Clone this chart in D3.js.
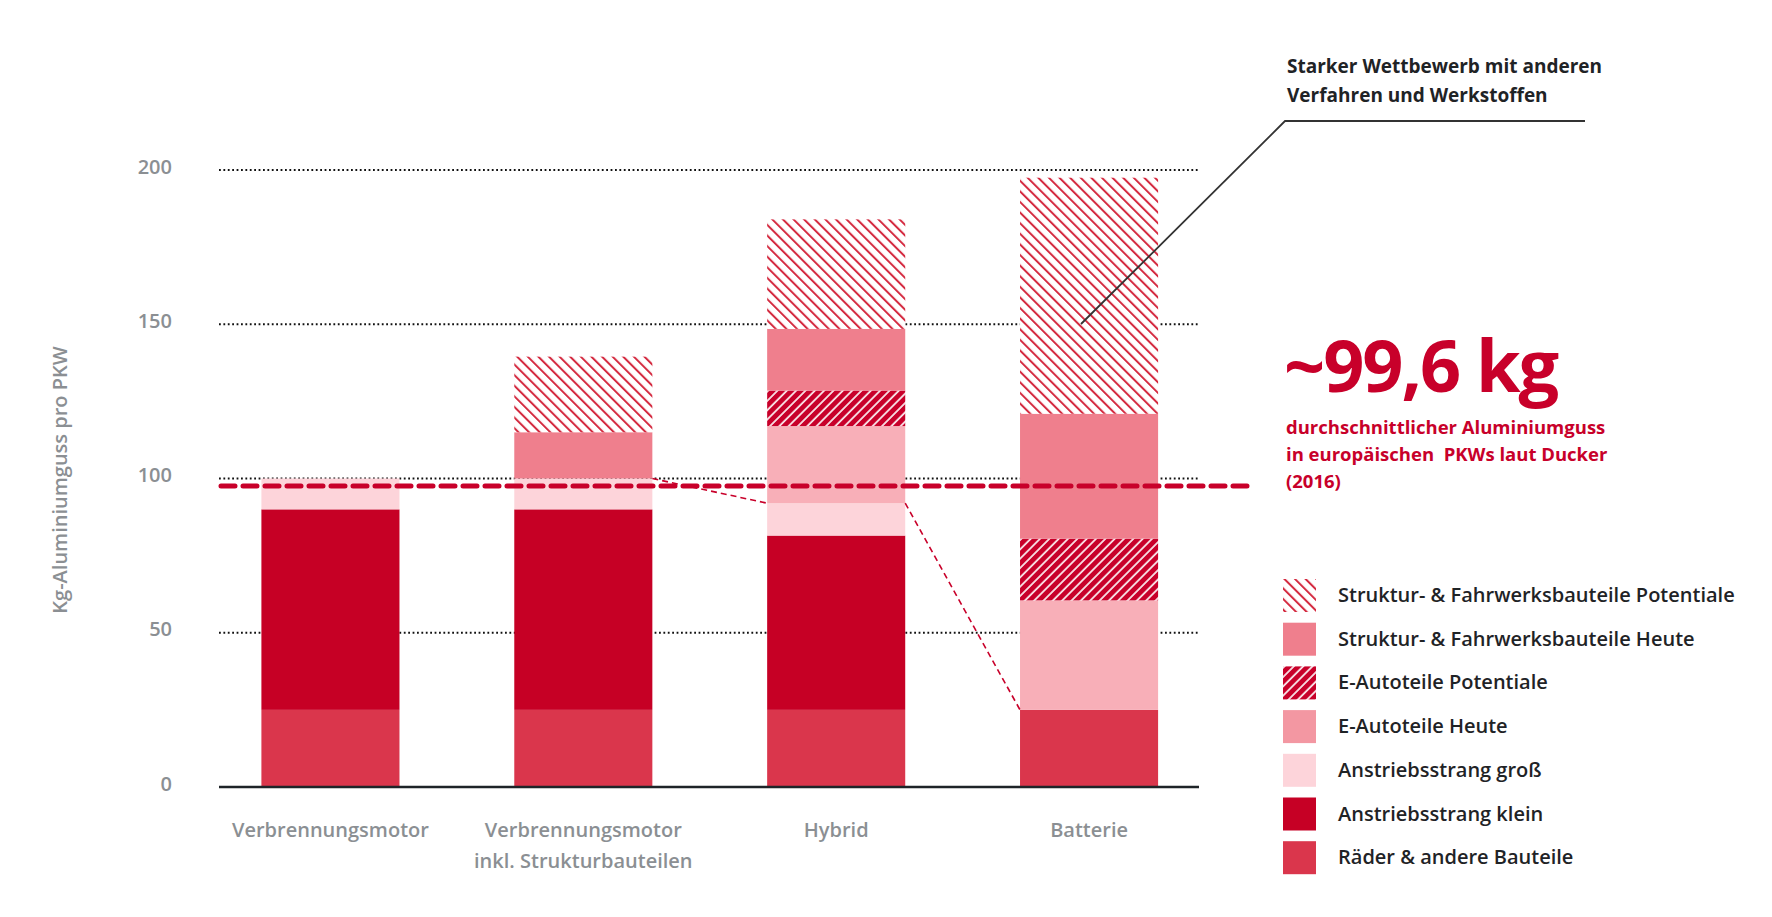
<!DOCTYPE html>
<html>
<head>
<meta charset="utf-8">
<script src="https://cdn.jsdelivr.net/npm/d3@7"></script>
<style>
  body { margin: 0; background: #fff; }
  text { font-family: "Open Sans", "Noto Sans", sans-serif; }
</style>
</head>
<body>
<div id="chart"></div>
<script>
// Data (kg per car)
var categories = ["Verbrennungsmotor", "Verbrennungsmotor\ninkl. Strukturbauteilen", "Hybrid", "Batterie"];
var raeder        = [25, 25, 25, 25];
var antriebKlein  = [65, 65, 56.5, 0];
var antriebGross  = [10, 10, 10.5, 0];
var eAutoHeute    = [0, 0, 25, 35.5];
var eAutoPot      = [0, 0, 11.5, 20];
var strukturHeute = [0, 15, 20, 40.5];
var strukturPot   = [0, 24.5, 35.5, 76.5];
var avgValue = 97.6;
var yTicks = [0, 50, 100, 150, 200];

var seriesNames = {
    raeder: "Räder & andere Bauteile",
    antriebKlein: "Anstriebsstrang klein",
    antriebGross: "Anstriebsstrang groß",
    eAutoHeute: "E-Autoteile Heute",
    eAutoPot: "E-Autoteile Potentiale",
    strukturHeute: "Struktur- & Fahrwerksbauteile Heute",
    strukturPot: "Struktur- & Fahrwerksbauteile Potentiale"
};
var keys = ["raeder", "antriebKlein", "antriebGross", "eAutoHeute", "eAutoPot", "strukturHeute", "strukturPot"];
var seriesData = {raeder: raeder, antriebKlein: antriebKlein, antriebGross: antriebGross,
    eAutoHeute: eAutoHeute, eAutoPot: eAutoPot, strukturHeute: strukturHeute, strukturPot: strukturPot};

var fills = {
    raeder: "#da364c",
    antriebKlein: "#c60025",
    antriebGross: "#fdd4da",
    eAutoHeute: "#f8afb8",
    eAutoPot: "url(#hatchDark)",
    strukturHeute: "#ef7f8d",
    strukturPot: "url(#hatchLight)"
};
var legendFills = Object.assign({}, fills, {eAutoHeute: "#f397a2"});

var svgWidth = 1772;
var svgHeight = 917;

var svg = d3.select("#chart")
    .append("svg")
    .attr("width", svgWidth)
    .attr("height", svgHeight);

// Hatch patterns
var defs = svg.append("defs");

var light = defs.append("pattern")
    .attr("id", "hatchLight")
    .attr("patternUnits", "userSpaceOnUse")
    .attr("width", 7.5)
    .attr("height", 7.5)
    .attr("patternTransform", "rotate(-45)");
light.append("rect").attr("width", 7.5).attr("height", 7.5).attr("fill", "#fff");
light.append("line")
    .attr("x1", 1).attr("y1", 0).attr("x2", 1).attr("y2", 7.5)
    .attr("stroke", "#d42a40").attr("stroke-width", 2);

var dark = defs.append("pattern")
    .attr("id", "hatchDark")
    .attr("patternUnits", "userSpaceOnUse")
    .attr("width", 6.6)
    .attr("height", 6.6)
    .attr("patternTransform", "rotate(45)");
dark.append("rect").attr("width", 6.6).attr("height", 6.6).attr("fill", "#c8002a");
dark.append("line")
    .attr("x1", 1).attr("y1", 0).attr("x2", 1).attr("y2", 6.6)
    .attr("stroke", "#fff").attr("stroke-width", 1.6);

// Scales
var yScale = d3.scaleLinear()
    .domain([0, 200])
    .range([787, 170]);

var xScale = d3.scaleBand()
    .domain(categories)
    .range([204, 1215.5])
    .paddingInner(0.454)
    .paddingOuter(0.227);

var gridLeft = 219, gridRight = 1199;

// Dotted gridlines
svg.append("g")
    .selectAll("line")
    .data(yTicks.filter(d => d > 0))
    .enter()
    .append("line")
    .attr("x1", gridLeft)
    .attr("x2", gridRight)
    .attr("y1", d => yScale(d))
    .attr("y2", d => yScale(d))
    .attr("stroke", "#111")
    .attr("stroke-width", 2)
    .attr("stroke-dasharray", "1.8,2.6");

// Y axis labels
var yAxis = svg.append("g")
    .attr("transform", "translate(172,0)")
    .call(d3.axisLeft(yScale).tickValues(yTicks).tickSize(0).tickPadding(0));
yAxis.select(".domain").remove();
yAxis.selectAll("text")
    .attr("dy", "3px")
    .attr("fill", "#8b8f93")
    .attr("font-size", "20px")
    .attr("font-weight", 600)
    .style("font-family", "'Open Sans', sans-serif");

// Stacked bars
var table = categories.map(function(c, i) {
    var row = {category: c};
    keys.forEach(k => row[k] = seriesData[k][i]);
    return row;
});
var stacked = d3.stack().keys(keys)(table);

svg.append("g")
    .selectAll("g")
    .data(stacked)
    .enter()
    .append("g")
    .attr("fill", d => fills[d.key])
    .selectAll("rect")
    .data(d => d)
    .enter()
    .append("rect")
    .filter(d => d[1] - d[0] > 0)
    .attr("x", d => xScale(d.data.category))
    .attr("width", xScale.bandwidth())
    .attr("y", d => yScale(d[1]))
    .attr("height", d => yScale(d[0]) - yScale(d[1]));

// Baseline
svg.append("line")
    .attr("x1", gridLeft)
    .attr("x2", gridRight)
    .attr("y1", yScale(0))
    .attr("y2", yScale(0))
    .attr("stroke", "#1e2428")
    .attr("stroke-width", 2.5);

// Thin dashed connectors at the top of the drivetrain parts
var grossLayer = stacked[keys.indexOf("antriebGross")];
var connectors = [];
for (var i = 1; i < categories.length - 1; i++) {
    connectors.push([grossLayer[i], grossLayer[i + 1]]);
}
svg.append("g")
    .selectAll("line")
    .data(connectors)
    .enter()
    .append("line")
    .attr("x1", d => xScale(d[0].data.category) + xScale.bandwidth())
    .attr("y1", d => yScale(d[0][1]))
    .attr("x2", d => xScale(d[1].data.category))
    .attr("y2", d => yScale(d[1][1]))
    .attr("stroke", "#c8002a")
    .attr("stroke-width", 1.6)
    .attr("stroke-dasharray", "6,4");

// Average line
svg.append("line")
    .attr("x1", gridLeft + 2)
    .attr("x2", 1255)
    .attr("y1", yScale(avgValue))
    .attr("y2", yScale(avgValue))
    .attr("stroke", "#c8002a")
    .attr("stroke-width", 5)
    .attr("stroke-linecap", "round")
    .attr("stroke-dasharray", "14,8");

// X labels
var xLabels = svg.append("g")
    .selectAll("text")
    .data(categories)
    .enter()
    .append("text")
    .attr("x", d => xScale(d) + xScale.bandwidth() / 2)
    .attr("y", 837)
    .attr("text-anchor", "middle")
    .attr("fill", "#8b8f93")
    .attr("font-size", "20px")
    .attr("font-weight", 600);
xLabels.each(function(d) {
    var lines = d.split("\n");
    var t = d3.select(this);
    lines.forEach(function(l, j) {
        t.append("tspan")
            .attr("x", xScale(d) + xScale.bandwidth() / 2)
            .attr("dy", j === 0 ? 0 : 31)
            .text(l);
    });
});

// Y axis title
svg.append("text")
    .attr("transform", "translate(67,480) rotate(-90)")
    .attr("text-anchor", "middle")
    .attr("fill", "#8b8f93")
    .attr("font-size", "20px")
    .attr("font-weight", 600)
    .text("Kg-Aluminiumguss pro PKW");

// Annotation
svg.append("path")
    .attr("d", d3.line()([[1081, 324], [1285, 121], [1585, 121]]))
    .attr("fill", "none")
    .attr("stroke", "#333")
    .attr("stroke-width", 1.8);

var note = svg.append("text")
    .attr("x", 1287)
    .attr("y", 73)
    .attr("fill", "#1f2326")
    .attr("font-size", "19px")
    .attr("font-weight", 700);
note.append("tspan").attr("x", 1287).text("Starker Wettbewerb mit anderen");
note.append("tspan").attr("x", 1287).attr("dy", 29).text("Verfahren und Werkstoffen");

// Average callout
svg.append("text")
    .attr("x", 1284)
    .attr("y", 392)
    .attr("fill", "#c8002a")
    .attr("font-size", "72px")
    .attr("font-weight", 700)
    .attr("letter-spacing", "-2px")
    .text("~99,6 kg");

var sub = svg.append("text")
    .attr("x", 1286)
    .attr("y", 434)
    .attr("fill", "#c8002a")
    .attr("font-size", "18.5px")
    .attr("font-weight", 700);
["durchschnittlicher Aluminiumguss", "in europäischen  PKWs laut Ducker", "(2016)"].forEach(function(l, j) {
    sub.append("tspan")
        .attr("x", 1286)
        .attr("dy", j === 0 ? 0 : 27)
        .style("white-space", "pre")
        .text(l);
});

// Legend
var legendKeys = keys.slice().reverse();
var legend = svg.append("g")
    .selectAll("g")
    .data(legendKeys)
    .enter()
    .append("g")
    .attr("transform", (d, i) => `translate(1283, ${579 + i * 43.7})`);

legend.append("rect")
    .attr("width", 33)
    .attr("height", 33)
    .attr("fill", d => legendFills[d]);

legend.append("text")
    .attr("x", 55)
    .attr("y", 23)
    .attr("fill", "#1f2326")
    .attr("font-size", "20px")
    .attr("font-weight", 600)
    .text(d => seriesNames[d]);
</script>
</body>
</html>
